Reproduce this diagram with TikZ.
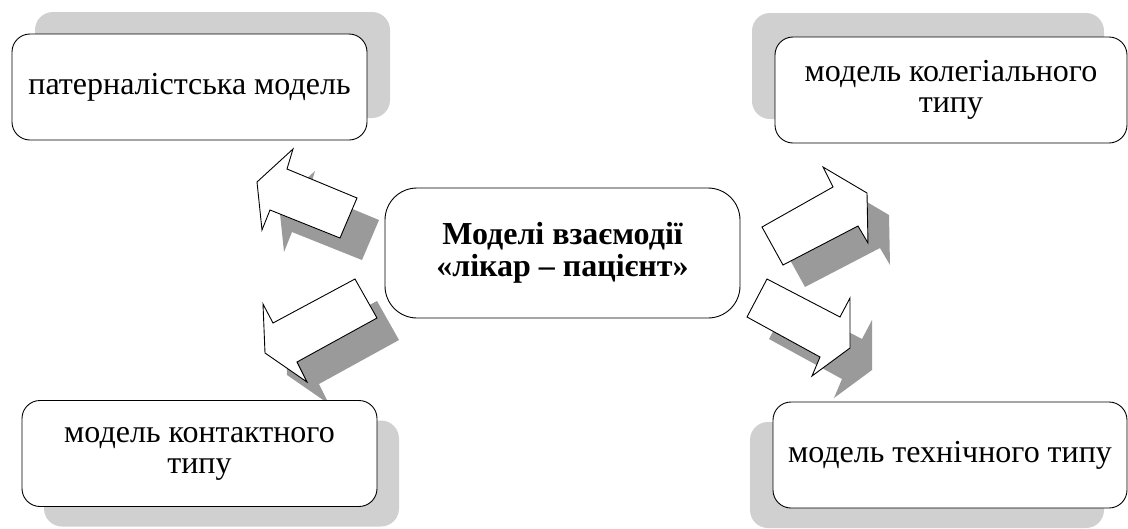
\documentclass[tikz,border=0pt]{standalone}
\usepackage{fontspec}
\setmainfont{Liberation Serif}
\usetikzlibrary{shadows}
\definecolor{boxshade}{HTML}{D0D0D0}
\definecolor{arrowshade}{HTML}{9A9A9A}
\newcommand{\blockarr}[1]{%
  \fill[arrowshade, shift={(22,22)}] #1;
  \draw[arrowbody] #1;}
\begin{document}
\begin{tikzpicture}[x=1pt,y=-1pt,
  modelbox/.style={draw=black, line width=0.9pt, fill=white, rounded corners=18pt,
    align=center, font=\fontsize{32}{31}\selectfont, inner sep=0pt,
    minimum width=355pt, minimum height=106pt},
  mainbox/.style={modelbox, rounded corners=32pt, minimum height=130pt,
    font=\fontsize{32}{32}\selectfont\bfseries},
  shade/.style 2 args={general shadow={shadow xshift=#1, shadow yshift=#2,
    fill=boxshade, opacity=1}},
  arrowbody/.style={draw=black, line width=0.9pt, fill=white, line join=miter}
]
\useasboundingbox (0,0) rectangle (1128,528);

% arrows (drawn before the boxes)
\blockarr{(257,182) -- (293,149) -- (287,169) -- (357,198) -- (340,238) -- (270,210) -- (262,230) -- cycle}
\blockarr{(265,353) -- (263,304) -- (273,323) -- (355,279) -- (377,318) -- (297,362) -- (307,382) -- cycle}
\blockarr{(762,227) -- (833,187) -- (823,167) -- (867,193) -- (868,243) -- (858,226) -- (783,265) -- cycle}
\blockarr{(767,279) -- (840,317) -- (850,298) -- (850,348) -- (812,376) -- (820,357) -- (747,317) -- cycle}

% boxes
\node[modelbox, shade={23pt}{22pt}] (pat) at (189.5,87) {патерналістська модель};
\node[modelbox, shade={22pt}{-20pt}] (kont) at (199.5,453.5) {модель контактного\\типу};
\node[modelbox, minimum width=352pt, shade={-23pt}{24pt}] (koleg) at (951,90) {модель колегіального\\типу};
\node[modelbox, minimum width=354pt, shade={-23pt}{-20pt}] (tech) at (950,455) {модель технічного типу};
\node[mainbox] (main) at (562.5,253) {Моделі взаємодії\\«лікар – пацієнт»};
\end{tikzpicture}
\end{document}
